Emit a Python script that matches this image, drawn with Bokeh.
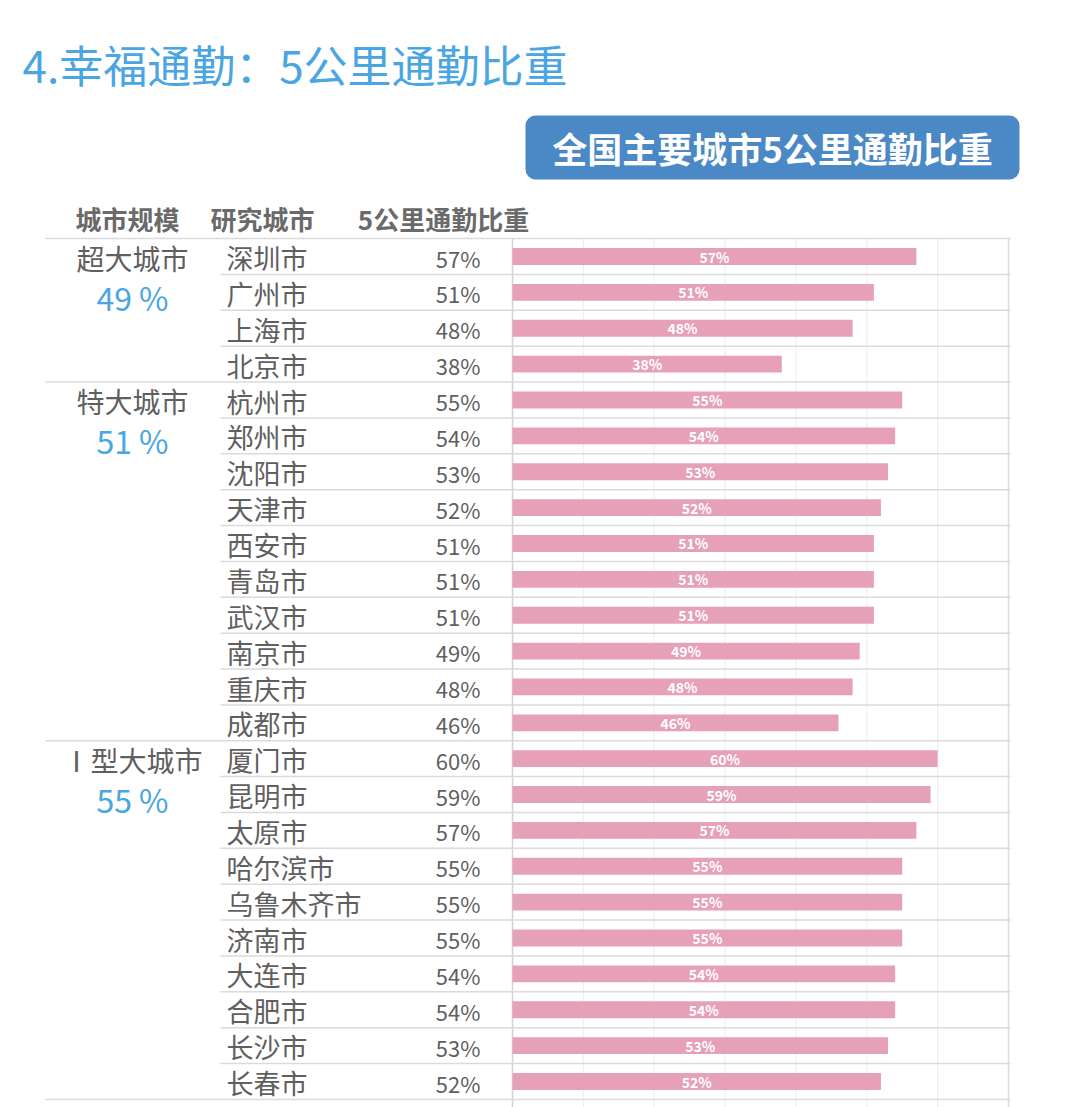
from bokeh.plotting import figure
from bokeh.models import Range1d, BoxAnnotation, ColumnDataSource
from bokeh.core.properties import value
from bokeh.embed import file_html
from bokeh.resources import INLINE

# ---- data -------------------------------------------------------------
groups = ["超大城市", "特大城市", "Ⅰ型大城市"]
group_avg = [49, 51, 55]
group_size = [4, 10, 10]

cities = ["深圳市", "广州市", "上海市", "北京市",
          "杭州市", "郑州市", "沈阳市", "天津市", "西安市", "青岛市", "武汉市",
          "南京市", "重庆市", "成都市",
          "厦门市", "昆明市", "太原市", "哈尔滨市", "乌鲁木齐市", "济南市",
          "大连市", "合肥市", "长沙市", "长春市"]
share = [57, 51, 48, 38,
         55, 54, 53, 52, 51, 51, 51, 49, 48, 46,
         60, 59, 57, 55, 55, 55, 54, 54, 53, 52]

x_ticks = [0, 10, 20, 30, 40, 50, 60, 70]

# ---- layout constants (page pixels) ------------------------------------
W, H = 1080, 1107
BAR_LEFT_PX, BAR_RIGHT_PX = 512, 1008          # 0 % and 70 % positions
K = (BAR_RIGHT_PX - BAR_LEFT_PX) / 70.0         # pixels per percent
ROW0_PX, ROW_H = 256, 35.87                     # first row centre, row pitch

FONT = value("Noto Sans CJK SC")
GRAY = "#5f5f5f"
BLUE = "#4aa6e2"
PINK = "#e6a0b7"

p = figure(width=W, height=H,
           x_range=Range1d(-BAR_LEFT_PX / K, (W - BAR_LEFT_PX) / K),
           y_range=Range1d((H - ROW0_PX) / ROW_H, -ROW0_PX / ROW_H),
           min_border=0, toolbar_location=None, output_backend="svg",
           x_axis_location=None, y_axis_location=None,
           outline_line_color=None, background_fill_color="white",
           border_fill_color="white")
p.grid.visible = False
p.extra_x_ranges = {"px": Range1d(0, W)}
p.extra_y_ranges = {"px": Range1d(H, 0)}

n = len(cities)
rows = list(range(n))

# ---- grid of the bar area -----------------------------------------------
inner = [t for t in x_ticks if t not in (0, 70)]
p.segment(x0=inner, x1=inner, y0=-0.5, y1=n + 2, line_color="#efefef", line_width=1.2)
p.segment(x0=[0], x1=[0], y0=-0.5, y1=n + 2, line_color="#d2d2d2", line_width=1.5)
p.segment(x0=[70], x1=[70], y0=-0.5, y1=n + 2, line_color="#dcdcdc", line_width=1.5)

# row separators: full width at group starts, from the city column otherwise
starts = []
s = 0
for g in group_size:
    starts.append(s)
    s += g
starts.append(s)
sep_full = [st - 0.5 for st in starts]
sep_inner = [r - 0.5 for r in rows if r not in starts]
p.segment(x0=[45] * len(sep_full), x1=[1010] * len(sep_full), y0=sep_full, y1=sep_full,
          x_range_name="px", line_color="#dadada", line_width=1.5)
p.segment(x0=[220] * len(sep_inner), x1=[1010] * len(sep_inner), y0=sep_inner, y1=sep_inner,
          x_range_name="px", line_color="#dadada", line_width=1.5)

# ---- bars ----------------------------------------------------------------
src = ColumnDataSource(dict(
    row=rows, share=share, mid=[v / 2 for v in share],
    label=[f"{v}%" for v in share], city=cities))
p.hbar(y="row", left=0, right="share", height=0.47, source=src,
       fill_color=PINK, line_color=None)
p.text(x="mid", y="row", text="label", source=src, text_align="center",
       text_baseline="middle", text_color="white", text_font=FONT,
       text_font_style="bold", text_font_size=value("14px"))

# ---- table columns ---------------------------------------------------------
p.text(x=[226] * n, y=[r + 0.03 for r in rows], text=cities, x_range_name="px",
       text_align="left", text_baseline="middle", text_color=GRAY,
       text_font=FONT, text_font_size=value("27px"))
p.text(x=[480] * n, y=[r + 0.03 for r in rows], text=[f"{v}%" for v in share],
       x_range_name="px", text_align="right", text_baseline="middle",
       text_color=GRAY, text_font=FONT, text_font_size=value("22px"))

g_rows = starts[:-1]
p.text(x=[132] * len(groups), y=[r + 0.04 for r in g_rows], text=groups,
       x_range_name="px", text_align="center", text_baseline="middle",
       text_color=GRAY, text_font=FONT, text_font_size=value("28px"))
p.text(x=[132] * len(groups), y=[r + 1.12 for r in g_rows],
       text=[f"{v} %" for v in group_avg], x_range_name="px",
       text_align="center", text_baseline="middle", text_color=BLUE,
       text_font=FONT, text_font_size=value("32px"))

# column headers
p.text(x=[127, 262, 443], y=[218] * 3, text=["城市规模", "研究城市", "5公里通勤比重"],
       x_range_name="px", y_range_name="px", text_align="center",
       text_baseline="middle", text_color="#6a6a6a", text_font=FONT,
       text_font_style="bold", text_font_size=value("26px"))

# ---- titles ----------------------------------------------------------------
p.text(x=[22], y=[63], text=["4.幸福通勤：5公里通勤比重"], x_range_name="px",
       y_range_name="px", text_align="left", text_baseline="middle",
       text_color=BLUE, text_font=FONT, text_font_size=value("44px"))

banner = BoxAnnotation(left=525, right=1019, top=115, bottom=179,
                       x_range_name="px", y_range_name="px",
                       fill_color="#4a88c6", fill_alpha=1.0, line_color=None,
                       border_radius=10, level="underlay")
p.add_layout(banner)
p.text(x=[772], y=[147], text=["全国主要城市5公里通勤比重"], x_range_name="px",
       y_range_name="px", text_align="center", text_baseline="middle",
       text_color="white", text_font=FONT, text_font_style="bold",
       text_font_size=value("35px"))

open("out.html", "w").write(file_html(p, INLINE))
